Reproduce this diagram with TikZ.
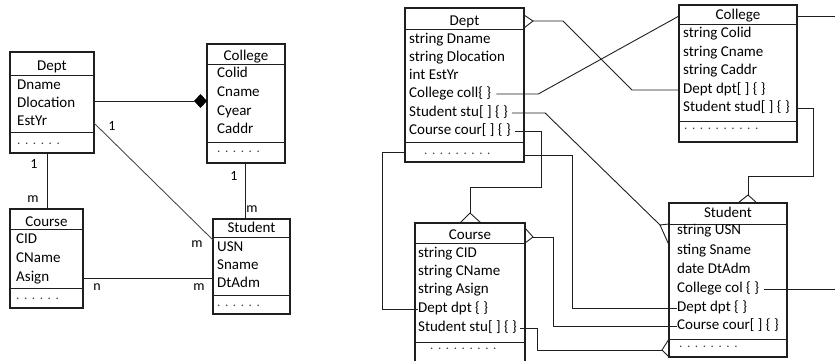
\documentclass[tikz,border=0pt]{standalone}
\usepackage{fontspec}
\setmainfont{Carlito}
\usetikzlibrary{calc}
\newcommand{\dt}{.\hspace{4.6pt}}
\begin{document}
\begin{tikzpicture}[x=1pt,y=-1pt,
  ln/.style={draw=black!88, line width=0.9pt},
  cls/.style={draw=black!88, line width=1.1pt, anchor=north west, inner sep=0pt, outer sep=0pt},
  ttl/.style={font=\fontsize{15}{18}\selectfont, inner sep=0pt, text height=10pt, text depth=3pt},
  row/.style={font=\fontsize{15}{18}\selectfont, anchor=west, inner sep=0pt, text height=10pt, text depth=3pt},
  dts/.style={font=\fontsize{13}{15}\selectfont, anchor=base west, inner sep=0pt, text=black!75},
  card/.style={font=\fontsize{14}{16}\selectfont, inner sep=0pt},
]
\useasboundingbox (0,0) rectangle (835,361);
\clip (0,0) rectangle (835,361);

% ---------- simple class diagram ----------
% Dept
\node[cls, minimum width=84pt, minimum height=101pt] (lDept) at (10,52) {};
\draw[ln] (lDept.west |- 0,75) -- (lDept.east |- 0,75);
\draw[ln] (lDept.west |- 0,132) -- (lDept.east |- 0,132);
\node[ttl] (lDeptT) at (52,67) {Dept};
\node[row] (lDn) at (17,86) {Dname};
\node[row] (lDl) at (17,104) {Dlocation};
\node[row] (lDe) at (17,122) {EstYr};
\node[dts] (lDd) at (17,144) {\dt\dt\dt\dt\dt.};
% College
\node[cls, minimum width=78pt, minimum height=119pt] (lColl) at (207,44) {};
\draw[ln] (lColl.west |- 0,64) -- (lColl.east |- 0,64);
\draw[ln] (lColl.west |- 0,142) -- (lColl.east |- 0,142);
\node[ttl] (lCollT) at (246,57) {College};
\node[row] (lCi) at (217,74) {Colid};
\node[row] (lCn) at (217,93) {Cname};
\node[row] (lCy) at (217,112) {Cyear};
\node[row] (lCa) at (217,130) {Caddr};
\node[dts] (lCd) at (217,152) {\dt\dt\dt\dt\dt.};
% Course
\node[cls, minimum width=73pt, minimum height=99pt] (lCour) at (10,209) {};
\draw[ln] (lCour.west |- 0,229) -- (lCour.east |- 0,229);
\draw[ln] (lCour.west |- 0,288) -- (lCour.east |- 0,288);
\node[ttl] (lCourT) at (46.5,223) {Course};
\node[row] (lRi) at (16,240) {CID};
\node[row] (lRn) at (16,259) {CName};
\node[row] (lRa) at (16,278) {Asign};
\node[dts] (lRd) at (16,299) {\dt\dt\dt\dt\dt.};
% Student
\node[cls, minimum width=77pt, minimum height=95pt] (lStud) at (213,219) {};
\draw[ln] (lStud.west |- 0,237) -- (lStud.east |- 0,237);
\draw[ln] (lStud.west |- 0,295) -- (lStud.east |- 0,295);
\node[ttl] (lStudT) at (251.5,229) {Student};
\node[row] (lSu) at (217,248) {USN};
\node[row] (lSn) at (217,266) {Sname};
\node[row] (lSd) at (217,284) {DtAdm};
\node[dts] (lSdd) at (217,306) {\dt\dt\dt\dt\dt.};

% associations
\coordinate (dmd) at (lColl.west |- 0,101);
\draw[ln] (lDept.east |- dmd) -- ([xshift=-13pt]dmd);
\fill[black] (dmd) -- ++(-6.5,-7) -- ++(-6.5,7) -- ++(6.5,7) -- cycle;
\draw[ln, draw=black!70] (lDept.east |- 0,123) -- (lStud.west |- 0,240);
\draw[ln] (lDept.south -| 47,0) -- (lCour.north -| 47,0);
\draw[ln] (lColl.south -| 245,0) -- (lStud.north -| 245,0);
\draw[ln] (lCour.east |- 0,278) -- (lStud.west |- 0,278);
\node[card] at (112,126) {1};
\node[card] at (197,244) {m};
\node[card] at (34,164) {1};
\node[card] at (33,199) {m};
\node[card] at (234,176) {1};
\node[card] at (252,209) {m};
\node[card] at (97,287) {n};
\node[card] at (199,287) {m};

% ---------- detailed class diagram ----------
% Dept
\node[cls, minimum width=119pt, minimum height=154pt] (rDept) at (405,8) {};
\draw[ln] (rDept.west |- 0,29) -- (rDept.east |- 0,29);
\draw[ln] (rDept.west |- 0,142) -- (rDept.east |- 0,142);
\node[ttl] (rDeptT) at (464.5,22) {Dept};
\node[row] (dDn) at (409,40) {string Dname};
\node[row] (dDl) at (409,58) {string Dlocation};
\node[row] (dEy) at (409,76) {int EstYr};
\node[row] (dColl) at (409,94) {College coll\{ \}};
\node[row] (dStu) at (409,113) {Student stu[ ] \{ \}};
\node[row] (dCour) at (409,131) {Course cour[ ] \{ \}};
\node[dts] (dDots) at (424,154) {\dt\dt\dt\dt\dt\dt\dt\dt.};
% College
\node[cls, minimum width=118pt, minimum height=137pt] (rColl) at (679,5) {};
\draw[ln] (rColl.west |- 0,24) -- (rColl.east |- 0,24);
\draw[ln] (rColl.west |- 0,121) -- (rColl.east |- 0,121);
\node[ttl] (rCollT) at (738,16) {College};
\node[row] (cCi) at (683,34) {string Colid};
\node[row] (cCn) at (683,53) {string Cname};
\node[row] (cCa) at (683,71) {string Caddr};
\node[row] (cDpt) at (683,90) {Dept dpt[ ] \{ \}};
\node[row] (cStu) at (683,108) {Student stud[ ] \{ \}};
\node[dts] (cDots) at (684,129) {\dt\dt\dt\dt\dt\dt\dt\dt\dt.};
% Course
\node[cls, minimum width=110pt, minimum height=147pt] (rCour) at (415,223) {};
\draw[ln] (rCour.west |- 0,243) -- (rCour.east |- 0,243);
\draw[ln] (rCour.west |- 0,342) -- (rCour.east |- 0,342);
\node[ttl] (rCourT) at (470,236) {Course};
\node[row] (xCi) at (418,254) {string CID};
\node[row] (xCn) at (418,272) {string CName};
\node[row] (xAs) at (418,290) {string Asign};
\node[row] (xDpt) at (418,309) {Dept dpt \{ \}};
\node[row] (xStu) at (418,328) {Student stu[ ] \{ \}};
\node[dts] (xDots) at (430,349) {\dt\dt\dt\dt\dt\dt\dt\dt.};
% Student
\node[cls, minimum width=118pt, minimum height=154pt] (rStud) at (669,203) {};
\draw[ln] (rStud.west |- 0,224) -- (rStud.east |- 0,224);
\draw[ln] (rStud.west |- 0,339) -- (rStud.east |- 0,339);
\node[ttl] (rStudT) at (728,214) {Student};
\node[row] (sUsn) at (677,231) {string USN};
\node[row] (sSn) at (677,251) {sting Sname};
\node[row] (sDt) at (677,270) {date DtAdm};
\node[row] (sColl) at (677,289) {College col \{ \}};
\node[row] (sDpt) at (677,308) {Dept dpt \{ \}};
\node[row] (sCour) at (677,326) {Course cour[ ] \{ \}};
\node[dts] (sDots) at (679,347) {\dt\dt\dt\dt\dt\dt\dt.};

% free ends at the right border
\coordinate (offR) at (835,0);

% Dept (many) -- College.dpt
\coordinate (cf1) at ($(rDept.north east)+(9,13)$);
\draw[ln] ($(rDept.north east)+(0,7)$) -- (cf1) -- ($(rDept.north east)+(0,20)$);
\draw[ln] (cf1) -- ++(30,0) -- ([xshift=-47pt]rColl.west |- cDpt) -- (rColl.west |- cDpt);
% Dept.coll -- College
\draw[ln] ([xshift=5pt]dColl.east) -- ++(42,0) -- (rColl.west |- rCollT);
% Dept.stu -- Student (many)
\coordinate (cf3) at ($(rStud.north west)+(-9,22)$);
\draw[ln] ([xshift=4pt]dStu.east) -- ++(33,0) -- (cf3);
\draw[ln] ($(rStud.north west)+(0,21)$) -- (cf3) -- ($(rStud.north west)+(0,42)$);
% Dept.cour -- Course (many)
\coordinate (cf4) at ($(rCour.north)+(0,-10)$);
\draw[ln] ([xshift=4pt]dCour.east) -- ++(27,0) -- ++(0,56) -| (cf4);
\draw[ln] ($(rCour.north)+(-10,0)$) -- (cf4) -- ($(rCour.north)+(11,0)$);
% Dept -- Course.dpt
\draw[ln] ($(rDept.south west)+(0,-10)$) -- ++(-23,0) |- (xDpt.west);
% Dept -- Student.dpt
\draw[ln] ($(rDept.south east)+(0,-7)$) -- ++(48,0) |- (sDpt.west);
% Course (many) -- Student.cour
\coordinate (cf7) at ($(rCour.north east)+(8,14)$);
\draw[ln] ($(rCour.north east)+(0,5)$) -- (cf7) -- ($(rCour.north east)+(0,20)$);
\draw[ln] (cf7) -- ++(20,0) |- (sCour.west);
% Course.stu -- Student (many)
\coordinate (cf8) at ($(rStud.south west)+(-7,-7)$);
\draw[ln] ([xshift=3pt]xStu.east) -- ++(17,0) |- (cf8);
\draw[ln] ($(rStud.south west)+(0,-18)$) -- (cf8) -- (rStud.south west);
% College -- off to the right
\draw[ln] (rColl.east |- rCollT) -- (offR |- rCollT);
% College.stud -- Student (many)
\coordinate (cf10) at ($(rStud.north)+(20,-8)$);
\draw[ln] (rColl.east |- cStu) -- ++(16,0) -- ++(0,68) -| (cf10);
\draw[ln] ($(rStud.north)+(10,0)$) -- (cf10) -- ($(rStud.north)+(29,0)$);
% Student.col -- off to the right
\draw[ln] ([xshift=5pt]sColl.east) -- (offR |- sColl);
\end{tikzpicture}
\end{document}
